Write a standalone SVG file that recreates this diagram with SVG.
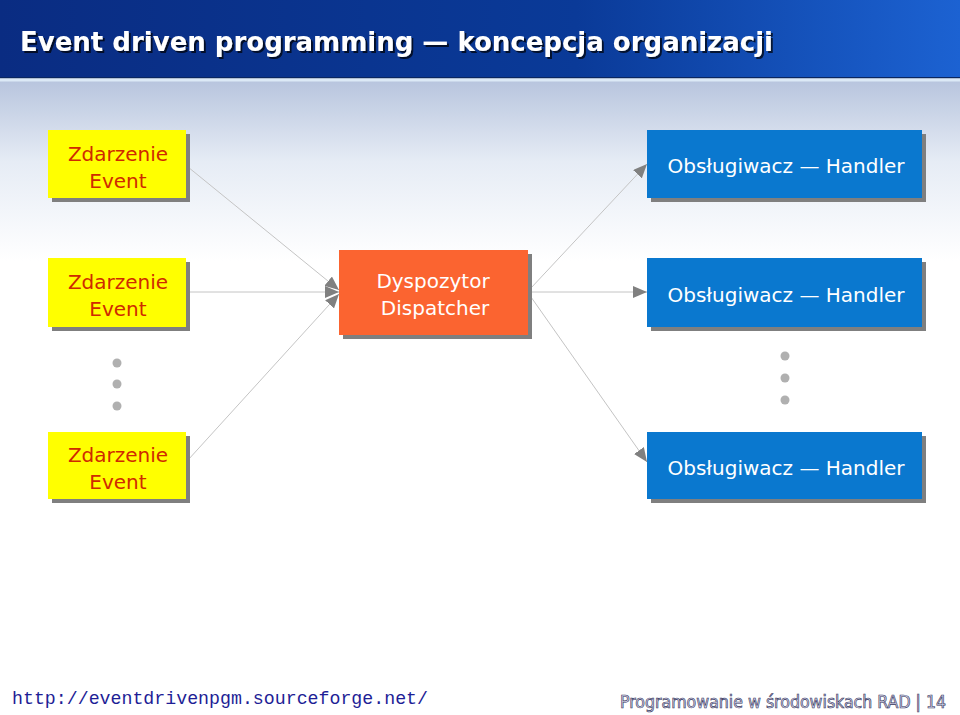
<svg xmlns="http://www.w3.org/2000/svg" width="960" height="715" viewBox="0 0 960 715">
<defs>
<linearGradient id="hdr" x1="0" y1="0" x2="1" y2="0">
<stop offset="0" stop-color="#0a2c82"/>
<stop offset="0.6" stop-color="#0a3a98"/>
<stop offset="1" stop-color="#1c62d2"/>
</linearGradient>
<linearGradient id="bg" x1="0" y1="0" x2="0" y2="1">
<stop offset="0" stop-color="#b8c5de"/>
<stop offset="0.45" stop-color="#e6ecf5"/>
<stop offset="1" stop-color="#ffffff"/>
</linearGradient>
<filter id="tsh" x="-5%" y="-30%" width="110%" height="160%">
<feDropShadow dx="2" dy="2" stdDeviation="0.6" flood-color="#000000" flood-opacity="0.7"/>
</filter>
<marker id="ah" markerUnits="userSpaceOnUse" markerWidth="14" markerHeight="12" refX="14" refY="6" orient="auto">
<path d="M0,0 L14,6 L0,12 z" fill="#808080"/>
</marker>
<style>
.shadow{fill:#7f7f7f}
.ev{fill:#ffff00}
.evt{fill:#cf2a00;font-family:"DejaVu Sans",sans-serif;font-size:20px;text-anchor:middle}
.ho{fill:#0a78cf}
.wt{fill:#ffffff;font-family:"DejaVu Sans",sans-serif;font-size:20px;text-anchor:middle}
.conn{stroke:#c4c4c4;stroke-width:1;fill:none;marker-end:url(#ah)}
.dot{fill:#b0b0b0}
</style>
</defs>
<rect x="0" y="0" width="960" height="715" fill="#ffffff"/>
<rect x="0" y="81" width="960" height="180" fill="url(#bg)"/>
<rect x="0" y="0" width="960" height="77" fill="url(#hdr)"/>
<rect x="0" y="77" width="960" height="1.5" fill="#0a2660"/>
<rect x="0" y="78.5" width="960" height="3" fill="#dce9f6"/>
<text x="20" y="51" filter="url(#tsh)" font-family="DejaVu Sans Condensed, DejaVu Sans, sans-serif" font-weight="bold" font-size="27" fill="#ffffff" textLength="753" lengthAdjust="spacingAndGlyphs">Event driven programming — koncepcja organizacji</text>

<g id="connectors">
<line class="conn" x1="188" y1="167" x2="339" y2="290"/>
<line class="conn" x1="188" y1="292" x2="339" y2="292"/>
<line class="conn" x1="188" y1="460" x2="339" y2="294"/>
<line class="conn" x1="531" y1="288" x2="647" y2="164"/>
<line class="conn" x1="531" y1="292" x2="647" y2="292"/>
<line class="conn" x1="531" y1="297" x2="647" y2="462"/>
</g>

<g id="event1">
<rect class="shadow" x="52" y="134" width="138" height="68"/>
<rect class="ev" x="48" y="130" width="138" height="68"/>
<text class="evt" x="118" y="161">Zdarzenie</text>
<text class="evt" x="118" y="188">Event</text>
</g>
<g id="event2">
<rect class="shadow" x="52" y="262" width="138" height="69"/>
<rect class="ev" x="48" y="258" width="138" height="69"/>
<text class="evt" x="118" y="289">Zdarzenie</text>
<text class="evt" x="118" y="316">Event</text>
</g>
<g id="event3">
<rect class="shadow" x="52" y="436" width="138" height="67"/>
<rect class="ev" x="48" y="432" width="138" height="67"/>
<text class="evt" x="118" y="462">Zdarzenie</text>
<text class="evt" x="118" y="489">Event</text>
</g>
<g id="dots-left">
<circle class="dot" cx="117" cy="363" r="4.5"/>
<circle class="dot" cx="117" cy="384" r="4.5"/>
<circle class="dot" cx="117" cy="406" r="4.5"/>
</g>

<g id="dispatcher">
<rect class="shadow" x="343" y="254" width="189" height="85"/>
<rect x="339" y="250" width="189" height="85" fill="#fb6430"/>
<text class="wt" x="433" y="288">Dyspozytor</text>
<text class="wt" x="435" y="315">Dispatcher</text>
</g>

<g id="handler1">
<rect class="shadow" x="651" y="134" width="275" height="68"/>
<rect class="ho" x="647" y="130" width="275" height="68"/>
<text class="wt" x="786" y="173">Obsługiwacz — Handler</text>
</g>
<g id="handler2">
<rect class="shadow" x="651" y="262" width="275" height="69"/>
<rect class="ho" x="647" y="258" width="275" height="69"/>
<text class="wt" x="786" y="302">Obsługiwacz — Handler</text>
</g>
<g id="handler3">
<rect class="shadow" x="651" y="436" width="275" height="67"/>
<rect class="ho" x="647" y="432" width="275" height="67"/>
<text class="wt" x="786" y="475">Obsługiwacz — Handler</text>
</g>
<g id="dots-right">
<circle class="dot" cx="785" cy="356" r="4.5"/>
<circle class="dot" cx="785" cy="378" r="4.5"/>
<circle class="dot" cx="785" cy="400" r="4.5"/>
</g>

<text x="12" y="704" font-family="Liberation Mono, monospace" font-size="18" fill="#1e1e96" textLength="416" lengthAdjust="spacingAndGlyphs">http://eventdrivenpgm.sourceforge.net/</text>
<text x="620" y="708" font-family="DejaVu Sans Condensed, DejaVu Sans, sans-serif" font-size="17" fill="#d4d6ee" stroke="#34345a" stroke-width="0.6" textLength="326" lengthAdjust="spacingAndGlyphs">Programowanie w środowiskach RAD | 14</text>
</svg>
